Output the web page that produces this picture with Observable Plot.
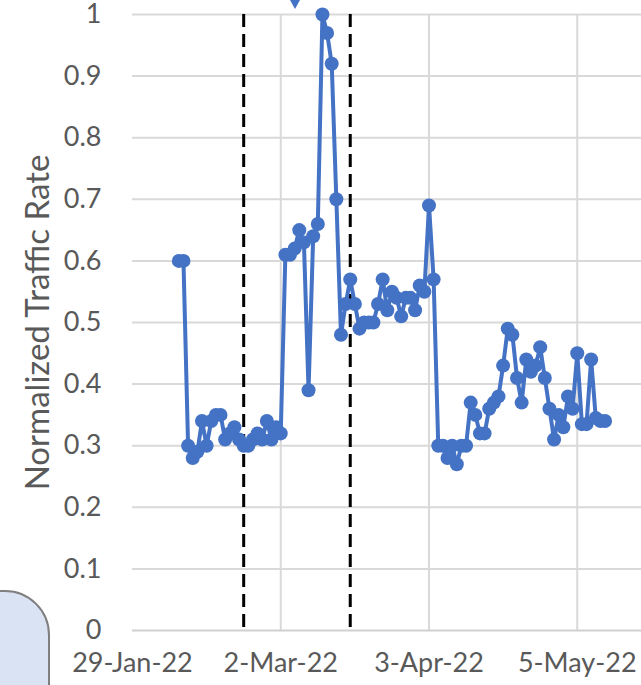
<!DOCTYPE html>
<html><head><meta charset="utf-8">
<script src="https://cdn.jsdelivr.net/npm/d3@7"></script>
<script src="https://cdn.jsdelivr.net/npm/@observablehq/plot@0.6"></script>
<style>
html,body{margin:0;padding:0;background:#fff;overflow:hidden;width:641px;height:685px;}
#wrap{position:relative;width:641px;height:685px;overflow:hidden;}
#chart{position:absolute;left:0;top:0;width:730px;}
#chart svg{max-width:none !important;}
.callout{position:absolute;left:-60px;top:590px;width:106px;height:160px;background:#dae3f3;border:2px solid #7f7f7f;border-radius:45px;}
.arrow{position:absolute;left:290px;top:0;width:0;height:0;border-left:5px solid transparent;border-right:5px solid transparent;border-top:9px solid #4472c4;}
</style></head><body>
<div id="wrap"><div id="chart"></div><div class="callout"></div><div class="arrow"></div></div>
<script>
const dates = [
"2022-02-08","2022-02-09","2022-02-10","2022-02-11","2022-02-12","2022-02-13","2022-02-14","2022-02-15","2022-02-16","2022-02-17",
"2022-02-18","2022-02-19","2022-02-20","2022-02-21","2022-02-22","2022-02-23","2022-02-24","2022-02-25","2022-02-26","2022-02-27",
"2022-02-28","2022-03-01","2022-03-02","2022-03-03","2022-03-04","2022-03-05","2022-03-06","2022-03-07","2022-03-08","2022-03-09",
"2022-03-10","2022-03-11","2022-03-12","2022-03-13","2022-03-14","2022-03-15","2022-03-16","2022-03-17","2022-03-18","2022-03-19",
"2022-03-20","2022-03-21","2022-03-22","2022-03-23","2022-03-24","2022-03-25","2022-03-26","2022-03-27","2022-03-28","2022-03-29",
"2022-03-30","2022-03-31","2022-04-01","2022-04-02","2022-04-03","2022-04-04","2022-04-05","2022-04-06","2022-04-07","2022-04-08",
"2022-04-09","2022-04-10","2022-04-11","2022-04-12","2022-04-13","2022-04-14","2022-04-15","2022-04-16","2022-04-17","2022-04-18",
"2022-04-19","2022-04-20","2022-04-21","2022-04-22","2022-04-23","2022-04-24","2022-04-25","2022-04-26","2022-04-27","2022-04-28",
"2022-04-29","2022-04-30","2022-05-01","2022-05-02","2022-05-03","2022-05-04","2022-05-05","2022-05-06","2022-05-07","2022-05-08",
"2022-05-09","2022-05-10","2022-05-11"];
const values = [
0.60,0.60,0.30,0.28,0.29,0.34,0.30,0.34,0.35,0.35,
0.31,0.32,0.33,0.31,0.30,0.30,0.31,0.32,0.31,0.34,
0.31,0.33,0.32,0.61,0.61,0.62,0.65,0.63,0.39,0.64,
0.66,1.00,0.97,0.92,0.70,0.48,0.53,0.57,0.53,0.49,
0.50,0.50,0.50,0.53,0.57,0.52,0.55,0.54,0.51,0.54,
0.54,0.52,0.56,0.55,0.69,0.57,0.30,0.30,0.28,0.30,
0.27,0.30,0.30,0.37,0.35,0.32,0.32,0.36,0.37,0.38,
0.43,0.49,0.48,0.41,0.37,0.44,0.42,0.43,0.46,0.41,
0.36,0.31,0.35,0.33,0.38,0.36,0.45,0.335,0.335,0.44,
0.345,0.34,0.34];
const xTicks = ["2022-01-29","2022-03-02","2022-04-03","2022-05-05"];
const xDomain = ["2022-01-29","2022-06-06"];
const gridDates = ["2022-03-02","2022-04-03","2022-05-05","2022-06-06"];
const yTicks = [0,0.1,0.2,0.3,0.4,0.5,0.6,0.7,0.8,0.9,1];
const eventDates = ["2022-02-22","2022-03-17"];
const yLabel = "Normalized Traffic Rate";

const data = dates.map((d, i) => ({date: new Date(d), value: values[i]}));
const toDate = d => new Date(d);
const fmt = d3.utcFormat("%-d-%b-%y");

const chart = Plot.plot({
  width: 730, height: 685,
  marginLeft: 132, marginRight: 5, marginTop: 14, marginBottom: 55,
  style: {fontFamily: "Lato, sans-serif", fontSize: "27px", color: "#595959", background: "white", overflow: "visible", maxWidth: "none"},
  x: {type: "utc", domain: xDomain.map(toDate)},
  y: {domain: [0, 1]},
  marks: [
    Plot.gridY(yTicks.slice(1), {stroke: "#d9d9d9", strokeOpacity: 1, strokeWidth: 2}),
    Plot.gridX(gridDates.map(toDate), {stroke: "#d9d9d9", strokeOpacity: 1, strokeWidth: 2}),
    Plot.ruleY([0], {stroke: "#d0d0d0", strokeWidth: 2}),
    Plot.axisY(yTicks, {tickSize: 0, tickPadding: 31, tickFormat: d => String(d), label: null, fill: "#595959"}),
    Plot.text([yLabel], {frameAnchor: "left", rotate: -90, dx: -94, text: d => d, fill: "#595959", fontSize: 33, textAnchor: "middle", lineAnchor: "middle"}),
    Plot.axisX(xTicks.map(toDate), {tickSize: 0, tickPadding: 22, tickFormat: fmt, label: null, fill: "#595959"}),
    Plot.ruleX(eventDates.map(toDate), {stroke: "black", strokeWidth: 3, strokeDasharray: "13,7"}),
    Plot.line(data, {x: "date", y: "value", stroke: "#4472c4", strokeWidth: 4}),
    Plot.dot(data, {x: "date", y: "value", r: 7, fill: "#4472c4"})
  ]
});
document.getElementById("chart").appendChild(chart);
</script>
</body></html>
